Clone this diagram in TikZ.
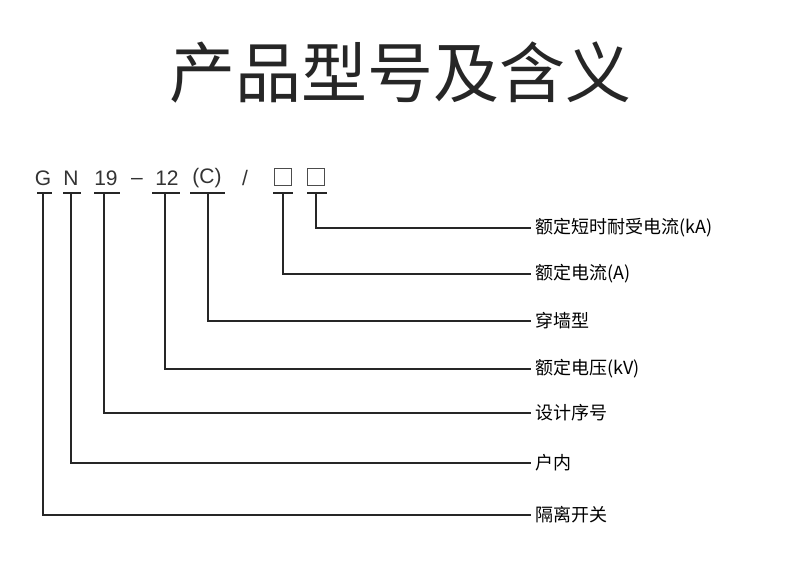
\documentclass[tikz,border=0pt]{standalone}
\usepackage{fontspec}
\setmainfont{Liberation Sans}
\newfontfamily\cjk{Noto Sans CJK SC}
\begin{document}
\begin{tikzpicture}[x=1pt,y=-1pt,
  code/.style={font=\fontsize{21}{21}\selectfont, text=black!80, inner sep=0pt},
  lab/.style={font=\cjk\fontsize{18}{18}\selectfont, anchor=west, inner sep=0pt},
  lead/.style={line width=1.4pt, black!85},
  boxch/.style={draw=black!70, line width=0.9pt, minimum width=17pt, minimum height=17pt, inner sep=0pt}]
\useasboundingbox (0,0) rectangle (800,561);
\node[font=\cjk\fontsize{66}{66}\selectfont, text=black!85] (title) at (400,73) {产品型号及含义};
\node[code] (g) at (43,178) {G};
\node[code] (n) at (71,178) {N};
\node[code] (c19) at (106,178) {19};
\node[code] (dash) at (137,181) {–};
\node[code] (c12) at (167,178) {12};
\node[code] (cc) at (207,178) {(C)};
\node[code] (sl) at (245,178) {/};
\node[boxch] (b1) at (283,177) {};
\node[boxch] (b2) at (316,177) {};
\foreach \nm/\a/\b/\x in {ug/37/52/43, un/63/81/71, u19/94/120/104, u12/152/180/165, uc/190/225/208, ub1/273/293/283, ub2/307/327/316}{
  \draw[lead] (\a,193) -- (\b,193);
  \coordinate (\nm) at (\x,193);
}
\foreach \nm/\y/\t in {l1/228/额定短时耐受电流(kA), l2/274/额定电流(A), l3/321/穿墙型, l4/369/额定电压(kV), l5/413/设计序号, l6/463/户内, l7/515/隔离开关}{
  \node[lab] (\nm) at (535,\y) {\t};
}
\foreach \u/\l in {ub2/l1, ub1/l2, uc/l3, u12/l4, u19/l5, un/l6, ug/l7}{
  \draw[lead] (\u) |- ([xshift=-4pt]\l.west);
}
\end{tikzpicture}
\end{document}
